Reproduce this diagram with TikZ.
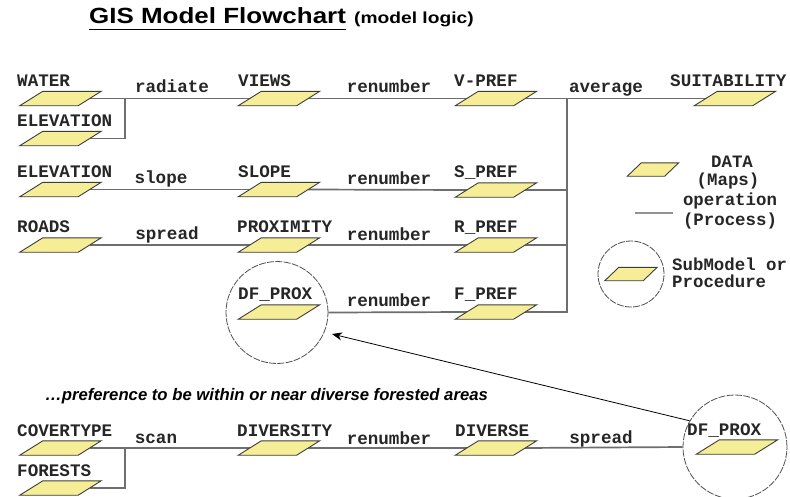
\documentclass[tikz,border=0pt]{standalone}
\usepackage{fontspec}
\setmainfont{Liberation Sans}
\newfontfamily\pixfont{Liberation Mono}
\usetikzlibrary{arrows.meta}

\definecolor{mapfill}{RGB}{246,238,150}
\definecolor{mapedge}{RGB}{60,60,60}
\definecolor{flowline}{RGB}{110,110,110}
\definecolor{ringline}{RGB}{80,80,80}

\begin{document}
\begin{tikzpicture}[x=1pt,y=-1pt,
  mapdata/.style={shape=rectangle, minimum width=58pt, minimum height=14pt, inner sep=0pt},
  mapsmall/.style={shape=rectangle, minimum width=37pt, minimum height=13pt, inner sep=0pt},
  mapshape/.style={draw=mapedge, fill=mapfill, line width=0.9pt, line join=miter},
  caplabel/.style={font=\pixfont\bfseries\fontsize{17.6}{18}\selectfont, inner sep=0pt, anchor=base west, text=black!85},
  oplabel/.style={font=\pixfont\bfseries\fontsize{17.6}{18}\selectfont, inner sep=0pt, anchor=base, text=black!85},
  legtext/.style={font=\pixfont\bfseries\fontsize{17.4}{18}\selectfont, inner sep=0pt, text=black!85},
  flow/.style={draw=flowline, line width=1.7pt},
  subring/.style={circle, draw=ringline, line width=0.8pt, dash pattern=on 7pt off 1.3pt, inner sep=0pt},
  pointer/.style={draw=black, line width=0.8pt, -{Stealth[length=10pt,width=8pt,inset=3pt]}}
]
\fill[white] (0,0) rectangle (790,496);
\useasboundingbox (0,0) rectangle (790,496);

% ---- title ----
\node[font=\bfseries\fontsize{22}{22}\selectfont, inner sep=0pt, anchor=base west] (title) at (89,23) {\scalebox{1.18}[1]{GIS Model Flowchart}};
\draw[line width=1.6pt] ([yshift=-6.5pt]title.base west) -- ([yshift=-6.5pt]title.base east);
\node[font=\bfseries\fontsize{16}{16}\selectfont, inner sep=0pt, anchor=base west] (subtitle) at (354,23) {\scalebox{1.2}[1]{(model logic)}};

% ---- data layers ----
\node[mapdata] (water)     at (60.5,98.5) {};
\node[mapdata] (elevA)     at (60.5,138.5) {};
\node[mapdata] (elevB)     at (60.5,189.5) {};
\node[mapdata] (roads)     at (60.5,245) {};
\node[mapdata] (views)     at (279,98.5) {};
\node[mapdata] (slope)     at (279,189.5) {};
\node[mapdata] (proximity) at (279,245) {};
\node[mapdata] (dfproxA)   at (279,312) {};
\node[mapdata] (vpref)     at (496,98.5) {};
\node[mapdata] (spref)     at (496,190) {};
\node[mapdata] (rpref)     at (496,245) {};
\node[mapdata] (fpref)     at (496,312) {};
\node[mapdata] (suit)      at (735,98.5) {};
\node[mapdata] (covertype) at (60.5,448) {};
\node[mapdata] (forests)   at (60.5,488) {};
\node[mapdata] (diversity) at (279,448) {};
\node[mapdata] (diverse)   at (496,448) {};
\node[mapdata] (dfproxB)   at (737,447) {};

% ---- submodel rings ----
\node[subring, minimum size=102pt] (ringA) at (277,312.5) {};
\node[subring, minimum size=104pt] (ringB) at (735,447) {};

% ---- layer names ----
\node[caplabel] (t-water)     at (17,86)   {WATER};
\node[caplabel] (t-elevA)     at (17,126)  {ELEVATION};
\node[caplabel] (t-elevB)     at (17,177)  {ELEVATION};
\node[caplabel] (t-roads)     at (17,232)  {ROADS};
\node[caplabel] (t-views)     at (238,86)  {VIEWS};
\node[caplabel] (t-slope)     at (238,177) {SLOPE};
\node[caplabel] (t-proximity) at (237,232) {PROXIMITY};
\node[caplabel] (t-dfproxA)   at (238,299) {DF\_PROX};
\node[caplabel] (t-vpref)     at (454,86)  {V-PREF};
\node[caplabel] (t-spref)     at (454,177) {S\_PREF};
\node[caplabel] (t-rpref)     at (454,232) {R\_PREF};
\node[caplabel] (t-fpref)     at (454,299) {F\_PREF};
\node[caplabel] (t-suit)      at (670,86)  {SUITABILITY};
\node[caplabel] (t-covertype) at (17,436)  {COVERTYPE};
\node[caplabel] (t-forests)   at (17,476)  {FORESTS};
\node[caplabel] (t-diversity) at (237,436) {DIVERSITY};
\node[caplabel] (t-diverse)   at (455,436) {DIVERSE};
\node[caplabel] (t-dfproxB)   at (687,435) {DF\_PROX};

% ---- operations ----
\node[oplabel] (op-radiate)  at (172,92)  {radiate};
\node[oplabel] (op-renumA)   at (389,92)  {renumber};
\node[oplabel] (op-average)  at (606,92)  {average};
\node[oplabel] (op-slope)    at (161,183) {slope};
\node[oplabel] (op-renumB)   at (389,184) {renumber};
\node[oplabel] (op-spreadA)  at (167,239) {spread};
\node[oplabel] (op-renumC)   at (389,240) {renumber};
\node[oplabel] (op-renumD)   at (389,306) {renumber};
\node[oplabel] (op-scan)     at (156,443) {scan};
\node[oplabel] (op-renumE)   at (389,444) {renumber};
\node[oplabel] (op-spreadB)  at (601,443) {spread};

% ---- process connectors ----
\coordinate (radiatejoin) at (125,98.5);
\coordinate (averagejoin) at (567,98.5);
\coordinate (scanjoin)    at (125,448);

\draw[flow] (water.east) -- (views.west);
\draw[flow] (elevA.east) -| (radiatejoin);
\draw[flow] (views.east) -- (vpref.west);
\draw[flow] (vpref.east) -- (suit.west);
\draw[flow] (elevB.east) -- (slope.west);
\draw[flow] (slope.east) -- (spref.west);
\draw[flow] (roads.east) -- (proximity.west);
\draw[flow] (proximity.east) -- (rpref.west);
\draw[flow] (ringA.east) -- (fpref.west);
\draw[flow] (spref.east) -| (averagejoin);
\draw[flow] (rpref.east) -| (averagejoin);
\draw[flow] (fpref.east) -| (averagejoin);
\draw[flow] (covertype.east) -- (diversity.west);
\draw[flow] (forests.east) -| (scanjoin);
\draw[flow] (diversity.east) -- (diverse.west);
\draw[flow] (diverse.east) -- (ringB.west);

% ---- parallelograms drawn over the connector ends ----
\foreach \n in {water,elevA,elevB,roads,views,slope,proximity,dfproxA,vpref,spref,rpref,fpref,suit,covertype,forests,diversity,diverse,dfproxB}
  \filldraw[mapshape] ([xshift=-11.5pt]\n.south west) -- ([xshift=-11.5pt]\n.south east)
    -- ([xshift=11.5pt]\n.north east) -- ([xshift=11.5pt]\n.north west) -- cycle;

% ---- submodel link ----
\coordinate (arrowtip) at (332,334);
\draw[pointer] (ringB.150) -- (arrowtip);

% ---- note ----
\node[font=\bfseries\itshape\fontsize{16.7}{17}\selectfont, inner sep=0pt, anchor=base west] (note) at (45,400)
  {…preference to be within or near diverse forested areas};

% ---- legend ----
\node[mapsmall] (leg-data) at (653,169.5) {};
\filldraw[mapshape] ([xshift=-7pt]leg-data.south west) -- ([xshift=-7pt]leg-data.south east)
  -- ([xshift=7pt]leg-data.north east) -- ([xshift=7pt]leg-data.north west) -- cycle;
\node[legtext, anchor=base] (leg-dataA) at (732,167) {DATA};
\node[legtext, anchor=base] (leg-dataB) at (728,185) {(Maps)};

\coordinate (leg-opA) at (635,213);
\coordinate (leg-opB) at (673,213);
\draw[draw=flowline!75, line width=1.8pt] (leg-opA) -- (leg-opB);
\node[legtext, anchor=base] (leg-procA) at (730,205) {operation};
\node[legtext, anchor=base] (leg-procB) at (730,225) {(Process)};

\node[subring, minimum size=66pt] (leg-ring) at (631,274) {};
\node[mapsmall, minimum width=38pt] (leg-sub) at (631,274) {};
\filldraw[mapshape] ([xshift=-7pt]leg-sub.south west) -- ([xshift=-7pt]leg-sub.south east)
  -- ([xshift=7pt]leg-sub.north east) -- ([xshift=7pt]leg-sub.north west) -- cycle;
\node[legtext, anchor=base west] (leg-subA) at (672,270) {SubModel or};
\node[legtext, anchor=base west] (leg-subB) at (672,287) {Procedure};
\end{tikzpicture}
\end{document}
